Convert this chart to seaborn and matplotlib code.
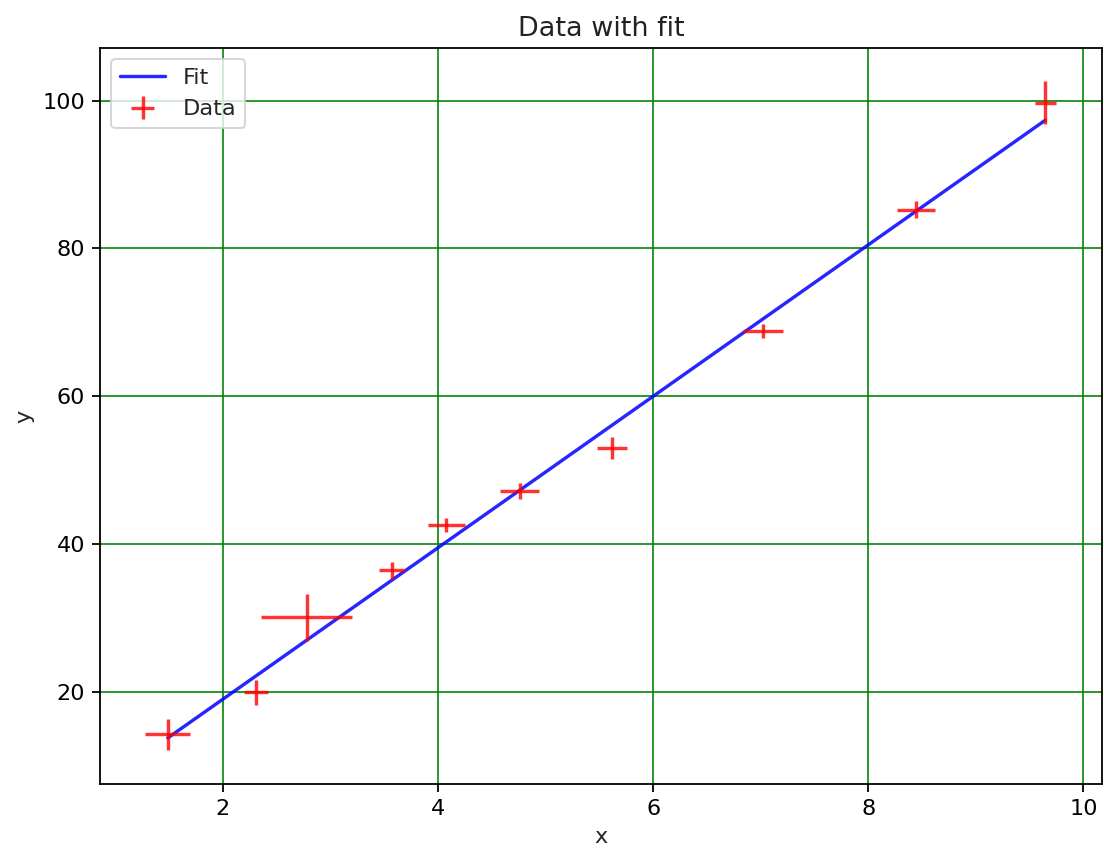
import numpy as np
import pandas as pd
import matplotlib
matplotlib.use("Agg")
import matplotlib.pyplot as plt
import seaborn as sns

# ── data ──────────────────────────────────────────────────────────
x_data = [1.49, 2.31, 2.78, 3.57, 4.08, 4.76, 5.62, 7.02, 8.44, 9.645]
y_data = [14.3, 20.0, 30.15, 36.5, 42.6, 47.2, 53.0, 68.85, 85.26, 99.7]
x_err  = [0.21, 0.11, 0.42, 0.12, 0.17, 0.18, 0.14, 0.185, 0.176, 0.10]
y_err  = [2.1, 1.7, 3.2, 1.15, 0.9, 1.06, 1.47, 0.9, 1.17, 2.9]
fit_y  = [13.83, 22.22, 27.04, 35.13, 40.35, 47.31, 56.12, 70.46, 85.00, 97.34]

df = pd.DataFrame({"x": x_data, "y": y_data, "fit": fit_y})

sns.set_style("ticks")
plt.rcParams["font.family"] = ["DejaVu Sans"]
FS = 11.2

fig = plt.figure(figsize=(1104 / 144, 851 / 144), dpi=144)
ax = fig.add_axes([0.0906, 0.0787, 0.9074, 0.8649])

sns.lineplot(data=df, x="x", y="fit", color="blue", alpha=0.85, lw=1.7,
             label="Fit", ax=ax)
ax.errorbar(df["x"], df["y"], xerr=x_err, yerr=y_err, fmt="none",
            ecolor="red", elinewidth=1.7, alpha=0.8, label="Data")

ax.grid(True, color="g", lw=0.9, alpha=0.9)
ax.set_axisbelow(True)
for s in ax.spines.values():
    s.set_color("black"); s.set_linewidth(0.9)
ax.tick_params(colors="black", labelsize=FS, length=4, width=0.9)
ax.set_xticks([2, 4, 6, 8, 10])
ax.set_yticks([20, 40, 60, 80, 100])
ax.set_xlim(0.86, 10.17)
ax.set_ylim(7.6, 107.1)
ax.set_title("Data with fit", fontsize=13.5, color="#222222")
ax.set_xlabel("x", fontsize=FS)
ax.set_ylabel("y", fontsize=FS)

h, l = ax.get_legend_handles_labels()
order = [l.index("Fit"), l.index("Data")]
ax.legend([h[i] for i in order], [l[i] for i in order], loc="upper left",
          fontsize=FS, frameon=True)

fig.savefig("out.png", dpi=144, facecolor="white")
